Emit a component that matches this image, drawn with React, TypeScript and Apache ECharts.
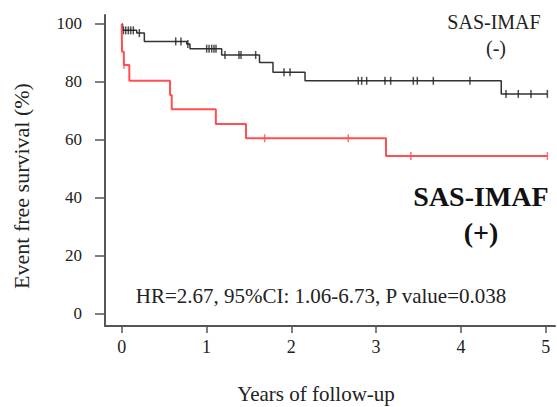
import React, { useEffect, useRef } from "react";
import * as echarts from "echarts";

// SAS-IMAF (-) Kaplan-Meier steps (time in years, survival %)
const negTimes = [0, 0.01, 0.177, 0.267, 0.767, 0.805, 1.179, 1.625, 1.784, 2.162, 4.476, 5.02];
const negSurv = [100, 97.8, 96.9, 94.0, 93.1, 91.5, 89.3, 86.7, 83.4, 80.4, 75.9, 75.9];
// SAS-IMAF (-) censor marks
const negCensorTimes = [0.02, 0.047, 0.078, 0.106, 0.137, 0.208, 0.637, 0.699, 0.78, 1.002, 1.03, 1.061, 1.088, 1.112, 1.218, 1.383, 1.407, 1.58, 1.914, 1.985, 2.79, 2.83, 2.889, 3.105, 3.172, 3.439, 3.486, 3.675, 4.107, 4.532, 4.677, 4.827, 5.02];
const negCensorSurv = [97.8, 97.8, 97.8, 97.8, 97.8, 96.9, 94.0, 94.0, 93.1, 91.5, 91.5, 91.5, 91.5, 91.5, 89.3, 89.3, 89.3, 89.3, 83.4, 83.4, 80.4, 80.4, 80.4, 80.4, 80.4, 80.4, 80.4, 80.4, 80.4, 75.9, 75.9, 75.9, 75.9];

// SAS-IMAF (+) Kaplan-Meier steps
const posTimes = [0, 0.002, 0.004, 0.025, 0.09, 0.57, 0.59, 1.11, 1.466, 3.117, 5.02];
const posSurv = [100, 95.2, 90.4, 85.9, 80.4, 75.5, 70.6, 65.5, 60.6, 54.5, 54.5];
// SAS-IMAF (+) censor marks
const posCensorTimes = [0.027, 1.686, 2.672, 3.41, 5.02];
const posCensorSurv = [85.9, 60.6, 60.6, 54.5, 54.5];

const xTicks = [0, 1, 2, 3, 4, 5];
const yTicks = [0, 20, 40, 60, 80, 100];

const FAMILY = "Liberation Serif";
const FONT = "'Liberation Serif', serif";
const AXIS_COLOR = "#555";
const BLACK = "#333";
const RED = "#ff4f4f";

const zip = (a: number[], b: number[]) => a.map((v, i) => [v, b[i]]);

export default function App() {
  const ref = useRef<HTMLDivElement>(null);
  useEffect(() => {
    if (!ref.current) return;
    const chart = echarts.init(ref.current, undefined, { renderer: "svg" });
    chart.setOption({
      animation: false,
      backgroundColor: "#fff",
      grid: { left: 105, top: 15, right: 2, bottom: 81, containLabel: false },
      xAxis: {
        type: "value",
        min: -0.197,
        max: 5.11,
        splitLine: { show: false },
        axisLine: { show: true, onZero: false, lineStyle: { color: AXIS_COLOR, width: 2 } },
        axisTick: { show: true, customValues: xTicks, length: 7, lineStyle: { color: AXIS_COLOR, width: 1.5 } },
        axisLabel: { customValues: xTicks, fontFamily: FAMILY, fontSize: 18, color: "#222", margin: 12 },
      },
      yAxis: {
        type: "value",
        min: -4.14,
        max: 103.1,
        splitLine: { show: false },
        axisLine: { show: true, onZero: false, lineStyle: { color: AXIS_COLOR, width: 2 } },
        axisTick: { show: true, customValues: yTicks, length: 10, lineStyle: { color: AXIS_COLOR, width: 1.5 } },
        axisLabel: { customValues: yTicks, fontFamily: FAMILY, fontSize: 17, color: "#222", margin: 23 },
      },
      series: [
        {
          type: "line",
          step: "end",
          data: zip(negTimes, negSurv),
          symbol: "none",
          lineStyle: { color: BLACK, width: 1.5 },
          z: 2,
        },
        {
          type: "scatter",
          data: zip(negCensorTimes, negCensorSurv),
          symbol: "rect",
          symbolSize: [1.5, 8],
          itemStyle: { color: "#222" },
          z: 3,
        },
        {
          type: "line",
          step: "end",
          data: zip(posTimes, posSurv),
          symbol: "none",
          lineStyle: { color: RED, width: 2 },
          z: 4,
        },
        {
          type: "scatter",
          data: zip(posCensorTimes, posCensorSurv),
          symbol: "rect",
          symbolSize: [1.5, 8],
          itemStyle: { color: RED },
          z: 5,
        },
      ],
      graphic: [
        {
          type: "text",
          x: 494,
          y: 22,
          style: { text: "SAS-IMAF", font: `20px ${FONT}`, fill: "#222", align: "center", verticalAlign: "middle" },
        },
        {
          type: "text",
          x: 496,
          y: 48,
          style: { text: "(-)", font: `20px ${FONT}`, fill: "#222", align: "center", verticalAlign: "middle" },
        },
        {
          type: "text",
          x: 481,
          y: 196,
          style: { text: "SAS-IMAF", font: `bold 28px ${FONT}`, fill: "#111", align: "center", verticalAlign: "middle" },
        },
        {
          type: "text",
          x: 481,
          y: 232,
          style: { text: "(+)", font: `bold 28px ${FONT}`, fill: "#111", align: "center", verticalAlign: "middle" },
        },
        {
          type: "text",
          x: 321,
          y: 296,
          style: { text: "HR=2.67, 95%CI: 1.06-6.73, P value=0.038", font: `21px ${FONT}`, fill: "#222", align: "center", verticalAlign: "middle" },
        },
        {
          type: "text",
          x: 316,
          y: 394,
          style: { text: "Years of follow-up", font: `21px ${FONT}`, fill: "#222", align: "center", verticalAlign: "middle" },
        },
        {
          type: "text",
          x: 21,
          y: 186,
          rotation: Math.PI / 2,
          style: { text: "Event free survival (%)", font: `22px ${FONT}`, fill: "#222", align: "center", verticalAlign: "middle" },
        },
      ],
    });
    return () => chart.dispose();
  }, []);
  return (
    <div
      ref={ref}
      style={{ position: "fixed", left: 0, top: 0, width: 557, height: 407, background: "#fff" }}
    />
  );
}
